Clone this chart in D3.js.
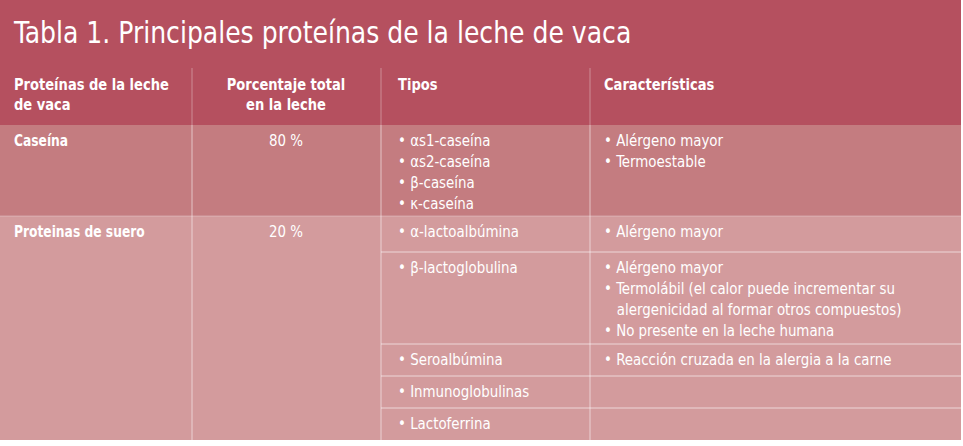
<!DOCTYPE html><html><head><meta charset="utf-8"><script src="https://cdn.jsdelivr.net/npm/d3@7"></script>
<style>body{margin:0;background:#fff}text{font-family:"Liberation Sans Narrow","DejaVu Sans Condensed","Roboto",sans-serif;fill:#fff}</style></head><body><svg id="c" width="963" height="446"></svg><script>
const title="Tabla 1. Principales proteínas de la leche de vaca";
const headers=[["Proteínas de la leche","de vaca"],["Porcentaje total","en la leche"],["Tipos"],["Características"]];
const proteins=["Caseína","Proteinas de suero"];
const percents=["80 %","20 %"];
const tipos=[["• αs1-caseína","• αs2-caseína","• β-caseína","• κ-caseína"],["• α-lactoalbúmina"],["• β-lactoglobulina"],["• Seroalbúmina"],["• Inmunoglobulinas"],["• Lactoferrina"]];
const caracs=[["• Alérgeno mayor","• Termoestable"],["• Alérgeno mayor"],["• Alérgeno mayor","• Termolábil (el calor puede incrementar su","   alergenicidad al formar otros compuestos)","• No presente en la leche humana"],["• Reacción cruzada en la alergia a la carne"],[],[]];
const rowH=[91,36,92,32,32,32];
const svg=d3.select("#c");
function squeeze(sel,f){const n=sel.node();const L=n.getComputedTextLength();sel.attr("textLength",L*f).attr("lengthAdjust","spacingAndGlyphs");return sel;}
svg.append("rect").attr("x",0).attr("y",0).attr("width",961).attr("height",125).attr("fill","#b5505f");
squeeze(svg.append("text").attr("x",14).attr("y",43).attr("font-size",31).attr("font-weight",500).text(title),0.9);
const hx=[14,286,398,604],ha=["start","middle","start","start"];
headers.forEach((h,i)=>h.forEach((l,j)=>squeeze(svg.append("text").attr("x",hx[i]).attr("y",90+j*20).attr("text-anchor",ha[i]).attr("font-size",16.5).attr("font-weight","bold").text(l),0.88)));
[192,381,590].forEach(x=>svg.append("line").attr("x1",x).attr("x2",x).attr("y1",68).attr("y2",125).attr("stroke","#fff").attr("stroke-opacity",0.35));
const ys=[125];rowH.forEach(h=>ys.push(ys[ys.length-1]+h));
const fills=["#c47c80","#d39b9d"];
svg.append("rect").attr("x",0).attr("y",ys[0]).attr("width",961).attr("height",ys[1]-ys[0]).attr("fill",fills[0]);
svg.append("rect").attr("x",0).attr("y",ys[1]).attr("width",961).attr("height",ys[6]-ys[1]).attr("fill",fills[1]);
function t(x,y,s,anchor,f){const e=svg.append("text").attr("x",x).attr("y",y).attr("text-anchor",anchor||"start").attr("font-size",16).attr("xml:space","preserve").text(s);return squeeze(e,f||0.93);}
proteins.forEach((p,i)=>{const y=i==0?ys[0]:ys[1];svg.append("text").attr("x",14).attr("y",y+21).attr("font-weight","bold").attr("font-size",15.5).text(p).call(s=>squeeze(s,0.88));t(286,y+21,percents[i],"middle");});
tipos.forEach((r,i)=>r.forEach((l,j)=>t(398,ys[i]+21+j*21,l)));
caracs.forEach((r,i)=>r.forEach((l,j)=>t(604,ys[i]+21+j*21,l)));
[192,381,590].forEach(x=>svg.append("line").attr("x1",x).attr("x2",x).attr("y1",125).attr("y2",ys[6]).attr("stroke","#fff").attr("stroke-opacity",0.55));
for(let i=2;i<6;i++)svg.append("line").attr("x1",381).attr("x2",961).attr("y1",ys[i]).attr("y2",ys[i]).attr("stroke","#fff").attr("stroke-opacity",0.6);
svg.append("line").attr("x1",0).attr("x2",961).attr("y1",ys[1]).attr("y2",ys[1]).attr("stroke","#fff").attr("stroke-opacity",0.3);
</script></body></html>
